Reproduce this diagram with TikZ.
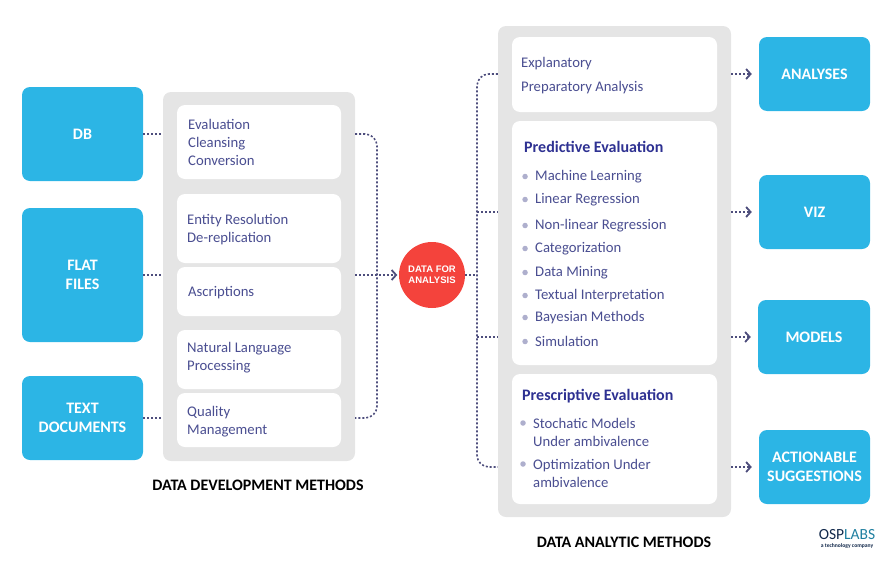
\documentclass[tikz,border=0pt]{standalone}
\usepackage{fontspec}
\setmainfont{Carlito}
\newfontfamily\circlefont{Liberation Sans}
\usetikzlibrary{arrows.meta}
\definecolor{skyblue}{HTML}{2CB5E5}
\definecolor{panelgray}{HTML}{E5E5E5}
\definecolor{inkblue}{HTML}{4A4E91}
\definecolor{headblue}{HTML}{2E3192}
\definecolor{dotblue}{HTML}{4D4D7C}
\definecolor{redball}{HTML}{F4433C}
\definecolor{logoteal}{HTML}{1F7FA0}
\definecolor{logonavy}{HTML}{12294B}

\begin{document}
\begin{tikzpicture}
[x=1pt,y=-1pt,>={Straight Barb[length=4.5pt,width=10pt,line width=1.8pt]},
  blue node/.style={rectangle,rounded corners=8pt,fill=skyblue,text=white,align=center,font=\fontsize{16}{19.5}\selectfont\bfseries,inner sep=0pt},
  panel node/.style={rectangle,rounded corners=8pt,fill=panelgray,inner sep=0pt},
  white node/.style={rectangle,rounded corners=8pt,fill=white,inner sep=0pt},
  text node/.style={anchor=west,align=left,inner sep=0pt,yshift=-1.5pt,text=inkblue,font=\fontsize{14.7}{18}\selectfont},
  head node/.style={anchor=west,inner sep=0pt,text=headblue,font=\fontsize{16}{18}\selectfont\bfseries},
  item node/.style={text node,label={[dot node]left:{}}},
  dot node/.style={circle,fill=inkblue!45,minimum size=5.5pt,inner sep=0pt,xshift=-7pt},
  title node/.style={inner sep=0pt,font=\fontsize{16}{18}\selectfont\bfseries},
  link/.style={line width=1.6pt,dash pattern=on 2pt off 2pt,draw=dotblue,rounded corners=12pt},
  linkto/.style={link,->,shorten >=7pt}]

  \useasboundingbox (0,0) rectangle (890,562);

  % left sources
  \node[blue node,minimum width=121pt,minimum height=94pt] (db) at (82.5,134) {DB};
  \node[blue node,minimum width=121pt,minimum height=134pt] (flat) at (82.5,275) {FLAT\\FILES};
  \node[blue node,minimum width=121pt,minimum height=84pt] (docs) at (82.5,418) {TEXT\\DOCUMENTS};

  % development panel
  \node[panel node,minimum width=192pt,minimum height=369pt] (dev) at (259,276.5) {};
  \node[white node,minimum width=164pt,minimum height=74pt] (evalbox) at (259,142) {};
  \node[white node,minimum width=164pt,minimum height=69pt] (entitybox) at (259,228.5) {};
  \node[white node,minimum width=164pt,minimum height=49pt] (ascbox) at (259,291.5) {};
  \node[white node,minimum width=164pt,minimum height=59pt] (nlpbox) at (259,359.5) {};
  \node[white node,minimum width=164pt,minimum height=54pt] (qualbox) at (259,420) {};

  \node[text node] (eval) at (188,141) {Evaluation\\Cleansing\\Conversion};
  \node[text node] (entity) at (187,228) {Entity Resolution\\De-replication};
  \node[text node] (asc) at (188,291) {Ascriptions};
  \node[text node] (nlp) at (187,356) {Natural Language\\Processing};
  \node[text node] (qual) at (187,420) {Quality\\Management};
  \node[title node] (devtitle) at (258,485) {DATA DEVELOPMENT METHODS};

  % centre
  \node[circle,fill=redball,text=white,minimum size=66pt,inner sep=0pt,align=center,font=\circlefont\fontsize{9.5}{11}\selectfont\bfseries] (data) at (432,275) {DATA FOR\\ANALYSIS};

  % analytic panel
  \node[panel node,minimum width=233pt,minimum height=491pt] (ana) at (614.5,271.5) {};
  \node[white node,minimum width=205pt,minimum height=75pt] (explbox) at (614.5,74.5) {};
  \node[white node,minimum width=205pt,minimum height=244pt] (predbox) at (614.5,243) {};
  \node[white node,minimum width=205pt,minimum height=130pt] (prescbox) at (614.5,439) {};

  \node[text node] (expl) at (521,62) {Explanatory};
  \node[text node] (prep) at (521,86) {Preparatory Analysis};

  \node[head node] (pred) at (524,147) {Predictive Evaluation};
  \node[item node] (ml) at (535,175) {Machine Learning};
  \node[item node] (lin) at (535,198) {Linear Regression};
  \node[item node] (nonlin) at (535,224) {Non-linear Regression};
  \node[item node] (cat) at (535,247) {Categorization};
  \node[item node] (mining) at (535,271) {Data Mining};
  \node[item node] (textual) at (535,294) {Textual Interpretation};
  \node[item node] (bayes) at (535,316) {Bayesian Methods};
  \node[item node] (sim) at (535,340) {Simulation};

  \node[head node] (presc) at (522,396) {Prescriptive Evaluation};
  \node[text node] (stoch) at (533,431) {Stochatic Models\\Under ambivalence};
  \node[text node] (optim) at (533,472) {Optimization Under\\ambivalence};
  \node[dot node,xshift=7pt] (stochdot) at (523,423) {};
  \node[dot node,xshift=7pt] (optimdot) at (523,464) {};
  \node[title node] (anatitle) at (624,542) {DATA ANALYTIC METHODS};

  % outputs
  \node[blue node,minimum width=111pt,minimum height=74pt] (analyses) at (814.5,74) {ANALYSES};
  \node[blue node,minimum width=111pt,minimum height=74pt] (viz) at (814.5,212) {VIZ};
  \node[blue node,minimum width=112pt,minimum height=74pt] (models) at (814,337) {MODELS};
  \node[blue node,minimum width=111pt,minimum height=74pt] (sugg) at (814.5,467) {ACTIONABLE\\SUGGESTIONS};

  % logo
  \node[inner sep=0pt,align=center,text=logonavy,font=\fontsize{15.5}{9}\selectfont] (logo) at (847,539) {OSP\textcolor{logoteal}{LABS}\\[-1pt]{\fontsize{5.6}{5}\selectfont\bfseries a technology company}};

  % connectors
  \coordinate (leftbus) at (377,275);
  \coordinate (rightbus) at (477,275);

  \draw[link] (db.east) -- (dev.west |- db.east);
  \draw[link] (flat.east) -- (dev.west |- flat.east);
  \draw[link] (docs.east) -- (dev.west |- docs.east);

  \draw[link] (dev.east |- db.east) -| (leftbus) |- (dev.east |- docs.east);
  \draw[linkto,shorten >=1.5pt] (dev.east |- data.west) -- (data.west);

  \draw[link] (data.east) -- (rightbus);
  \draw[link] (ana.west |- analyses.west) -| (rightbus) |- (ana.west |- sugg.west);
  \draw[link] (rightbus |- viz.west) -- (ana.west |- viz.west);
  \draw[link] (rightbus |- models.west) -- (ana.west |- models.west);

  \draw[linkto] (ana.east |- analyses.west) -- (analyses.west);
  \draw[linkto] (ana.east |- viz.west) -- (viz.west);
  \draw[linkto] (ana.east |- models.west) -- (models.west);
  \draw[linkto] (ana.east |- sugg.west) -- (sugg.west);
\end{tikzpicture}
\end{document}
